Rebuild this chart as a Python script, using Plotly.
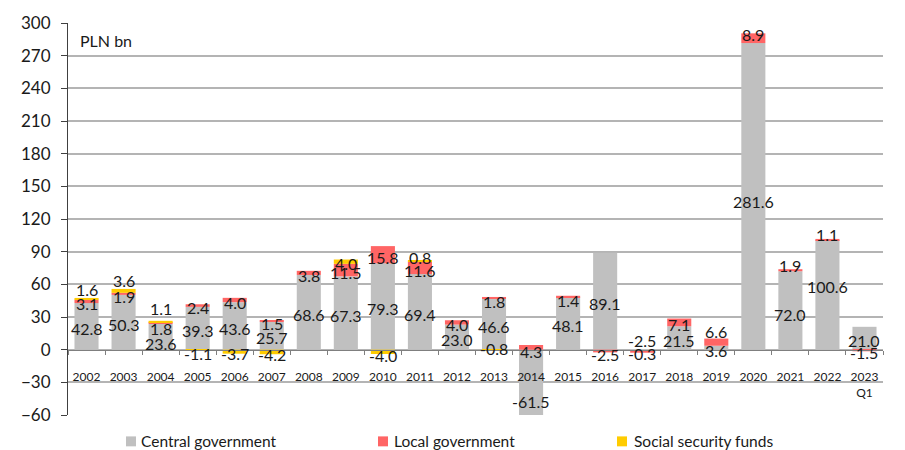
import plotly.graph_objects as go

# ---- data (PLN bn) ----
years = ["2002", "2003", "2004", "2005", "2006", "2007", "2008", "2009", "2010",
         "2011", "2012", "2013", "2014", "2015", "2016", "2017", "2018", "2019",
         "2020", "2021", "2022", "2023"]
tick_labels = ["2002", "2003", "2004", "2005", "2006", "2007", "2008", "2009", "2010",
               "2011", "2012", "2013", "2014", "2015", "2016", "2017", "2018", "2019",
               "2020", "2021", "2022", "2023<br>Q1"]
central = [42.8, 50.3, 23.6, 39.3, 43.6, 25.7, 68.6, 67.3, 79.3, 69.4, 23.0, 46.6,
           -61.5, 48.1, 89.1, -0.3, 21.5, 3.6, 281.6, 72.0, 100.6, 21.0]
local = [3.1, 1.9, 1.8, 2.4, 4.0, 1.5, 3.8, 11.5, 15.8, 11.6, 4.0, 1.8,
         4.3, 1.4, -2.5, -2.5, 7.1, 6.6, 8.9, 1.9, 1.1, -1.5]
social = [1.6, 3.6, 1.1, -1.1, -3.7, -4.2, None, 4.0, -4.0, 0.8, None, -0.8,
          None, None, None, None, None, None, None, None, None, None]

series_names = ["Central government", "Local government", "Social security funds"]
colors = ["#C0C0C0", "#FF6565", "#FFCC00"]

# ---- label placement tweaks (value units, relative to segment centre) ----
default_nudge = -1.2
label_nudge = [
    {"2004": -5.1, "2014": -17.0, "2017": -2.5, "2020": -3.5, "2021": -2.8, "2022": 8.7},
    {"2004": -4.4, "2013": -2.2, "2014": -2.5, "2015": -2.6, "2016": -2.1, "2017": 11.0,
     "2019": 11.0, "2020": 4.5, "2021": 5.2, "2022": 5.7},
    {"2002": 9.3, "2003": 10.2, "2004": 12.4, "2005": -2.5, "2010": -2.0, "2011": 4.5,
     "2013": 2.5},
]

Y_MIN, Y_MAX = -60, 300
FONT = "Lato, 'Open Sans', sans-serif"
TEXT = "#1a1a1a"

fig = go.Figure()
all_series = [central, local, social]
for name, vals, col in zip(series_names, all_series, colors):
    fig.add_trace(go.Bar(
        x=years, y=[v if v is not None else 0 for v in vals], name=name,
        marker=dict(color=col, line=dict(width=0)), showlegend=False,
        hoverinfo="x+y+name",
    ))

# data labels centred on each stacked segment (x given as category index)
pos_base = [0.0] * len(years)
neg_base = [0.0] * len(years)
annotations = []
for s, vals in enumerate(all_series):
    for i, v in enumerate(vals):
        if v is None:
            continue
        if v >= 0:
            lo, hi = pos_base[i], pos_base[i] + v
            pos_base[i] = hi
        else:
            hi, lo = neg_base[i], neg_base[i] + v
            neg_base[i] = lo
        lo_c, hi_c = max(lo, Y_MIN), min(hi, Y_MAX)
        centre = (lo_c + hi_c) / 2
        y_lab = centre + label_nudge[s].get(years[i], default_nudge)
        annotations.append(dict(
            x=i, y=y_lab, xref="x", yref="y", text=f"{v:.1f}",
            showarrow=False, xanchor="center", yanchor="middle", yshift=-1,
            font=dict(family=FONT, size=16, color=TEXT),
        ))

# unit caption
annotations.append(dict(
    x=0.012, y=0.955, xref="paper", yref="paper", text="PLN bn", showarrow=False,
    xanchor="left", yanchor="middle", font=dict(family=FONT, size=16, color=TEXT),
))

# ---- hand-built legend below the plot ----
L, R, T, B = 68, 22, 21, 35
W, H = 905, 450
pw, ph = W - L - R, H - T - B


def px_x(px):
    return (px - L) / pw


def px_y(py):
    return (H - B - py) / ph


shapes = []
legend_pos = [(126, 139), (378, 392), (617, 632)]
for (sq_x, txt_x), name, col in zip(legend_pos, series_names, colors):
    shapes.append(dict(
        type="rect", xref="paper", yref="paper",
        x0=px_x(sq_x), x1=px_x(sq_x + 10), y0=px_y(446.5), y1=px_y(436.5),
        fillcolor=col, line=dict(width=0),
    ))
    annotations.append(dict(
        x=px_x(txt_x), y=px_y(441.5), xref="paper", yref="paper", text=name,
        showarrow=False, xanchor="left", yanchor="middle",
        font=dict(family=FONT, size=15.5, color=TEXT),
    ))

fig.update_layout(
    barmode="relative",
    bargap=0.35,
    width=W, height=H,
    margin=dict(l=L, r=R, t=T, b=B, pad=0),
    paper_bgcolor="white", plot_bgcolor="white",
    font=dict(family=FONT, color=TEXT),
    annotations=annotations,
    shapes=shapes,
    showlegend=False,
    xaxis=dict(
        type="category", categoryorder="array", categoryarray=years,
        range=[-0.5, len(years) - 0.5], autorange=False,
        tickmode="array", tickvals=years, ticktext=tick_labels, tickangle=0,
        anchor="free", position=(0 - Y_MIN) / (Y_MAX - Y_MIN),
        showline=True, linecolor="#7F7F7F", linewidth=1,
        ticks="outside", tickson="boundaries", ticklen=4, tickcolor="#7F7F7F",
        showgrid=False, zeroline=False,
        tickfont=dict(family=FONT, size=12, color=TEXT),
        ticklabelstandoff=16,
    ),
    yaxis=dict(
        range=[Y_MIN, Y_MAX], autorange=False, dtick=30, tick0=0,
        showgrid=True, gridcolor="#B4B4B4", gridwidth=1.5,
        zeroline=False,
        showline=True, linecolor="#404040", linewidth=1,
        ticks="outside", ticklen=6, tickcolor="#404040",
        tickfont=dict(family=FONT, size=17, color=TEXT),
        ticklabelstandoff=7,
    ),
)

fig.write_html("out.html")
